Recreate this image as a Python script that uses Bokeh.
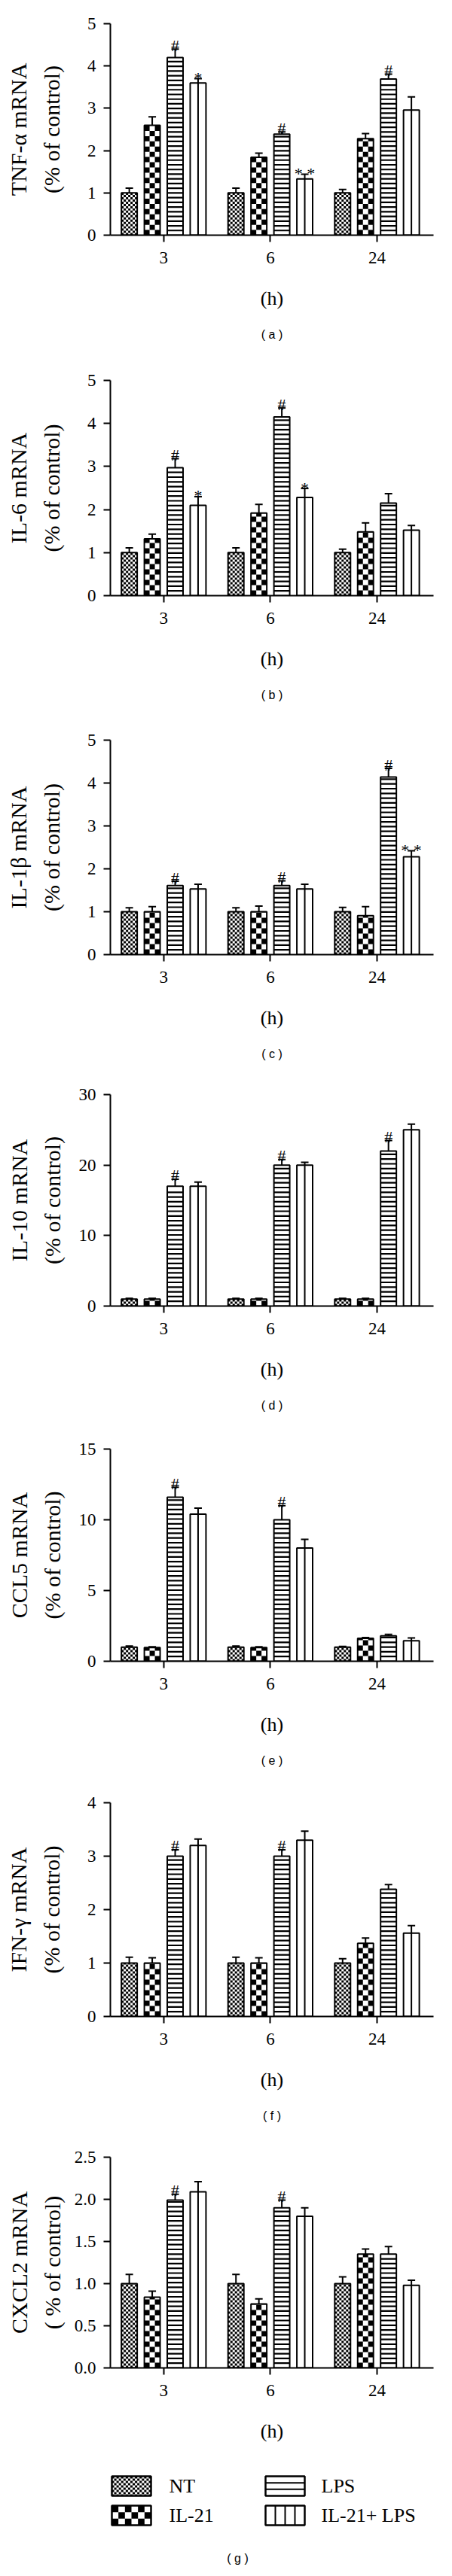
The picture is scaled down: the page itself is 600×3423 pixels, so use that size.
import math
from bokeh.plotting import figure
from bokeh.layouts import column
from bokeh.models import (ColumnDataSource, Whisker, TeeHead, Label, Range1d, Title,
                          FixedTicker, NumeralTickFormatter)
from bokeh.core.properties import value
from bokeh.embed import file_html
from bokeh.resources import INLINE

# ---------------- data ----------------
hours = ["3", "6", "24"]
groups = ["NT", "IL-21", "LPS", "IL-21+ LPS"]

# (a) TNF-alpha
tnf_nt = [1.0, 1.0, 1.0];      tnf_nt_err = [0.11, 0.11, 0.08]
tnf_il21 = [2.60, 1.84, 2.28]; tnf_il21_err = [0.20, 0.10, 0.12]
tnf_lps = [4.20, 2.39, 3.69];  tnf_lps_err = [0.20, 0.05, 0.12]
tnf_comb = [3.60, 1.33, 2.96]; tnf_comb_err = [0.10, 0.11, 0.31]
tnf_lps_mark = ["#", "#", "#"]; tnf_comb_mark = ["*", "* *", ""]

# (b) IL-6
il6_nt = [1.0, 1.0, 1.0];      il6_nt_err = [0.11, 0.11, 0.08]
il6_il21 = [1.32, 1.92, 1.48]; il6_il21_err = [0.11, 0.20, 0.21]
il6_lps = [2.97, 4.15, 2.15];  il6_lps_err = [0.21, 0.21, 0.22]
il6_comb = [2.10, 2.28, 1.52]; il6_comb_err = [0.20, 0.21, 0.11]
il6_lps_mark = ["#", "#", ""]; il6_comb_mark = ["*", "*", ""]

# (c) IL-1beta
il1b_nt = [1.0, 1.0, 1.0];      il1b_nt_err = [0.09, 0.09, 0.10]
il1b_il21 = [1.00, 1.00, 0.91]; il1b_il21_err = [0.12, 0.13, 0.21]
il1b_lps = [1.61, 1.61, 4.14];  il1b_lps_err = [0.10, 0.11, 0.20]
il1b_comb = [1.53, 1.53, 2.28]; il1b_comb_err = [0.11, 0.11, 0.14]
il1b_lps_mark = ["#", "#", "#"]; il1b_comb_mark = ["", "", "* *"]

# (d) IL-10
il10_nt = [1.0, 1.0, 1.0];       il10_nt_err = [0.1, 0.1, 0.1]
il10_il21 = [1.0, 1.0, 1.0];     il10_il21_err = [0.1, 0.1, 0.1]
il10_lps = [17.0, 20.0, 22.0];   il10_lps_err = [1.0, 0.8, 1.5]
il10_comb = [17.0, 20.0, 25.0];  il10_comb_err = [0.6, 0.4, 0.8]
il10_lps_mark = ["#", "#", "#"]; il10_comb_mark = ["", "", ""]

# (e) CCL5
ccl5_nt = [1.0, 1.0, 1.0];       ccl5_nt_err = [0.08, 0.08, 0.05]
ccl5_il21 = [0.97, 0.97, 1.62];  ccl5_il21_err = [0.05, 0.05, 0.06]
ccl5_lps = [11.6, 10.0, 1.80];   ccl5_lps_err = [0.7, 1.0, 0.10]
ccl5_comb = [10.4, 8.0, 1.45];   ccl5_comb_err = [0.43, 0.62, 0.20]
ccl5_lps_mark = ["#", "#", ""];  ccl5_comb_mark = ["", "", ""]

# (f) IFN-gamma
ifn_nt = [1.0, 1.0, 1.0];       ifn_nt_err = [0.11, 0.11, 0.08]
ifn_il21 = [1.00, 1.00, 1.37];  ifn_il21_err = [0.10, 0.10, 0.10]
ifn_lps = [3.00, 3.00, 2.38];   ifn_lps_err = [0.12, 0.12, 0.09]
ifn_comb = [3.20, 3.30, 1.56];  ifn_comb_err = [0.12, 0.17, 0.14]
ifn_lps_mark = ["#", "#", ""];  ifn_comb_mark = ["", "", ""]

# (g) CXCL2
cxcl2_nt = [1.0, 1.0, 1.0];       cxcl2_nt_err = [0.11, 0.11, 0.08]
cxcl2_il21 = [0.84, 0.76, 1.35];  cxcl2_il21_err = [0.07, 0.06, 0.06]
cxcl2_lps = [1.99, 1.90, 1.35];   cxcl2_lps_err = [0.07, 0.09, 0.09]
cxcl2_comb = [2.09, 1.80, 0.98];  cxcl2_comb_err = [0.12, 0.10, 0.06]
cxcl2_lps_mark = ["#", "#", ""];  cxcl2_comb_mark = ["", "", ""]

ticks_0_5 = [0, 1, 2, 3, 4, 5]
ticks_0_30 = [0, 10, 20, 30]
ticks_0_15 = [0, 5, 10, 15]
ticks_0_4 = [0, 1, 2, 3, 4]
ticks_0_25 = [0.0, 0.5, 1.0, 1.5, 2.0, 2.5]

# ---------------- style / layout ----------------
SERIF = "Liberation Serif"
SANS = "Liberation Sans"
W = 584
LEFT = 146
RIGHT = 9
XMIN, XMAX = -0.5, 2.53
PITCH, BW = 0.215, 0.148
OFFS = [-1.5, -0.5, 0.5, 1.5]
TICK_FS = 23
YTITLE_EDGE = 58      # px from frame-left to right edge of the y-title block
CAPTION_X = 323       # screen x of panel caption
CAPTION_FIX = 16      # empirical correction of Title offset


def checker(x_left, y0, w, h, cell_px, ppx, ppy):
    ncol = max(1, int(round(w * ppx / cell_px)))
    cw = w / ncol
    ch = cell_px / ppy
    nrow = int(math.ceil(h / ch - 1e-9))
    X, Y, WW, HH = [], [], [], []
    for r in range(nrow):
        yb = r * ch
        hh = min(ch, h - yb)
        for c in range(ncol):
            if (r + c) % 2 == 0:
                X.append(x_left + (c + 0.5) * cw)
                Y.append(y0 + yb + hh / 2)
                WW.append(cw)
                HH.append(hh)
    return X, Y, WW, HH


def style_axis(ax, standoff):
    ax.axis_line_width = 2
    ax.axis_line_color = "black"
    ax.major_tick_line_width = 2
    ax.major_tick_line_color = "black"
    ax.major_tick_in = 0
    ax.major_tick_out = 9
    ax.minor_tick_line_color = None
    ax.major_label_text_font = SERIF
    ax.major_label_text_font_size = f"{TICK_FS}px"
    ax.major_label_text_color = "black"
    ax.major_label_standoff = standoff
    ax.axis_label_text_font = SERIF
    ax.axis_label_text_font_style = "normal"
    ax.axis_label_text_color = "black"


def label_width(s):
    return sum(0.25 if ch == "." else 0.5 for ch in s) * TICK_FS


def make_panel(P):
    fw = W - LEFT - RIGHT
    fh = P["fh"]
    H = P["top"] + fh + P["bottom"]
    ymax = P["ticks"][-1]
    p = figure(width=W, height=H, x_range=Range1d(XMIN, XMAX), y_range=Range1d(0, ymax),
               output_backend="svg", toolbar_location=None,
               min_border_left=LEFT, min_border_right=RIGHT,
               min_border_top=P["top"], min_border_bottom=P["bottom"])
    p.outline_line_color = None
    p.xgrid.visible = False
    p.ygrid.visible = False
    ppx = fw / (XMAX - XMIN)
    ppy = fh / ymax

    xa = p.xaxis[0]
    ya = p.yaxis[0]
    style_axis(xa, 13)
    style_axis(ya, 10)
    xa.ticker = FixedTicker(ticks=list(range(len(hours))))
    xa.major_label_overrides = {i: h for i, h in enumerate(hours)}
    xa.axis_label = "(h)"
    xa.axis_label_text_font_size = "26px"
    xa.axis_label_standoff = 29
    ya.ticker = FixedTicker(ticks=P["ticks"])
    if P.get("fmt"):
        ya.formatter = NumeralTickFormatter(format=P["fmt"])
        tick_txt = [f"{t:.1f}" for t in P["ticks"]]
    else:
        tick_txt = [str(t) for t in P["ticks"]]
    tw = max(label_width(s) for s in tick_txt)
    ya.axis_label = P["title1"] + "\n" + P["title2"]
    ya.axis_label_text_font_size = "30px"
    ya.axis_label_text_line_height = 1.33
    ya.axis_label_standoff = int(round(max(0, YTITLE_EDGE - 9 - 10 - tw)))

    series = P["series"]
    for k, (vals, errs) in enumerate(series):
        xs = [i + OFFS[k] * PITCH for i in range(len(hours))]
        src = ColumnDataSource(dict(x=xs, top=vals, upper=[v + e for v, e in zip(vals, errs)]))
        p.vbar(x="x", top="top", bottom=0, width=BW, source=src,
               fill_color="white", line_color=None)
        if k in (0, 1):
            cell = 3.0 if k == 0 else 7.0
            CX, CY, CW, CH = [], [], [], []
            for x, v in zip(xs, vals):
                a, b, c, d = checker(x - BW / 2, 0, BW, v, cell, ppx, ppy)
                CX += a; CY += b; CW += c; CH += d
            p.rect(x=CX, y=CY, width=CW, height=CH, fill_color="black", line_color=None)
        elif k == 2:
            sx0, sx1, sy = [], [], []
            step = 6.3 / ppy
            for x, v in zip(xs, vals):
                j = 1
                while j * step < v - 0.3 * step:
                    sx0.append(x - BW / 2); sx1.append(x + BW / 2); sy.append(j * step)
                    j += 1
            p.segment(x0=sx0, y0=sy, x1=sx1, y1=sy, line_color="black", line_width=2.2)
        else:
            p.segment(x0=xs, y0=[0] * len(xs), x1=xs, y1=vals, line_color="black", line_width=2)
        p.vbar(x="x", top="top", bottom=0, width=BW, source=src,
               fill_color=None, line_color="black", line_width=2)
        wh = Whisker(base="x", lower="top", upper="upper", source=src,
                     line_color="black", line_width=2,
                     upper_head=TeeHead(size=10, line_width=2, line_color="black"),
                     lower_head=None)
        p.add_layout(wh)
        marks = P["marks"].get(k)
        if marks:
            mx = [x for x, m in zip(xs, marks) if m]
            my = [v + e for v, e, m in zip(vals, errs, marks) if m]
            mt = [m for m in marks if m]
            if mt:
                yoff = -5 if k == 2 else -1
                p.text(x=mx, y=my, text=mt, text_font=value(SERIF), text_font_size="22px",
                       text_align="center", text_baseline="alphabetic", y_offset=yoff,
                       text_color="black")

    if P.get("caption"):
        frame_cx = 8 + LEFT + fw / 2
        cap = Title(text=P["caption"], align="center", text_font=SANS, text_font_size="16px",
                    text_font_style="normal", text_color="black", standoff=40,
                    offset=CAPTION_X - frame_cx + CAPTION_FIX)
        p.add_layout(cap, "below")
    return p


panels = [
    dict(top=31, fh=284, bottom=157, ticks=ticks_0_5, title1="TNF-α mRNA",
         title2="(% of control)", caption="( a )",
         series=[(tnf_nt, tnf_nt_err), (tnf_il21, tnf_il21_err), (tnf_lps, tnf_lps_err),
                 (tnf_comb, tnf_comb_err)],
         marks={2: tnf_lps_mark, 3: tnf_comb_mark}),
    dict(top=33, fh=286, bottom=161, ticks=ticks_0_5, title1="IL-6 mRNA",
         title2="(% of control)", caption="( b )",
         series=[(il6_nt, il6_nt_err), (il6_il21, il6_il21_err), (il6_lps, il6_lps_err),
                 (il6_comb, il6_comb_err)],
         marks={2: il6_lps_mark, 3: il6_comb_mark}),
    dict(top=31, fh=285, bottom=164, ticks=ticks_0_5, title1="IL-1β mRNA",
         title2="(% of control)", caption="( c )",
         series=[(il1b_nt, il1b_nt_err), (il1b_il21, il1b_il21_err), (il1b_lps, il1b_lps_err),
                 (il1b_comb, il1b_comb_err)],
         marks={2: il1b_lps_mark, 3: il1b_comb_mark}),
    dict(top=22, fh=281, bottom=167, ticks=ticks_0_30, title1="IL-10 mRNA",
         title2="(% of control)", caption="( d )",
         series=[(il10_nt, il10_nt_err), (il10_il21, il10_il21_err), (il10_lps, il10_lps_err),
                 (il10_comb, il10_comb_err)],
         marks={2: il10_lps_mark, 3: il10_comb_mark}),
    dict(top=23, fh=282, bottom=165, ticks=ticks_0_15, title1="CCL5 mRNA",
         title2="(% of control)", caption="( e )",
         series=[(ccl5_nt, ccl5_nt_err), (ccl5_il21, ccl5_il21_err), (ccl5_lps, ccl5_lps_err),
                 (ccl5_comb, ccl5_comb_err)],
         marks={2: ccl5_lps_mark, 3: ccl5_comb_mark}),
    dict(top=23, fh=284, bottom=163, ticks=ticks_0_4, title1="IFN-γ mRNA",
         title2="(% of control)", caption="( f )",
         series=[(ifn_nt, ifn_nt_err), (ifn_il21, ifn_il21_err), (ifn_lps, ifn_lps_err),
                 (ifn_comb, ifn_comb_err)],
         marks={2: ifn_lps_mark, 3: ifn_comb_mark}),
    dict(top=24, fh=280, bottom=126, ticks=ticks_0_25, fmt="0.0", title1="CXCL2 mRNA",
         title2="( % of control)", caption=None,
         series=[(cxcl2_nt, cxcl2_nt_err), (cxcl2_il21, cxcl2_il21_err), (cxcl2_lps, cxcl2_lps_err),
                 (cxcl2_comb, cxcl2_comb_err)],
         marks={2: cxcl2_lps_mark, 3: cxcl2_comb_mark}),
]


def make_legend():
    LH = 136
    p = figure(width=W, height=LH, x_range=Range1d(LEFT, W - RIGHT), y_range=Range1d(LH, 0),
               output_backend="svg", toolbar_location=None, x_axis_type=None, y_axis_type=None,
               min_border_left=LEFT, min_border_right=RIGHT, min_border_top=0, min_border_bottom=0)
    p.outline_line_color = None
    p.xgrid.visible = False
    p.ygrid.visible = False
    box_w, box_h = 52, 26
    col_x = [148, 352]
    row_y = [18, 57]
    label_x = [224, 426]
    pos = [(0, 0), (0, 1), (1, 0), (1, 1)]
    for k, name in enumerate(groups):
        c, r = pos[k]
        bx, by = col_x[c], row_y[r]
        p.rect(x=[bx + box_w / 2], y=[by + box_h / 2], width=[box_w], height=[box_h],
               fill_color="white", line_color=None)
        if k in (0, 1):
            cell = 3.0 if k == 0 else box_w / 6
            X, Y, WW, HH = checker(bx, by, box_w, box_h, cell, 1.0, 1.0)
            p.rect(x=X, y=Y, width=WW, height=HH, fill_color="black", line_color=None)
        elif k == 2:
            ys = [by + box_h * f for f in (1 / 3, 2 / 3)]
            p.segment(x0=[bx] * 2, x1=[bx + box_w] * 2, y0=ys, y1=ys,
                      line_color="black", line_width=2)
        else:
            xs = [bx + box_w * f for f in (0.25, 0.5, 0.75)]
            p.segment(x0=xs, x1=xs, y0=[by] * 3, y1=[by + box_h] * 3,
                      line_color="black", line_width=2)
        p.rect(x=[bx + box_w / 2], y=[by + box_h / 2], width=[box_w], height=[box_h],
               fill_color=None, line_color="black", line_width=2.5)
        p.text(x=[label_x[c]], y=[by + box_h / 2], text=[name], text_font=value(SERIF),
               text_font_size="26px", text_align="left", text_baseline="middle",
               text_color="black")
    p.add_layout(Label(x=CAPTION_X - 8, y=127, x_units="data", y_units="data", text="( g )",
                       text_align="center", text_baseline="middle", text_font=SANS,
                       text_font_size="16px", text_color="black"))
    return p


figs = [make_panel(P) for P in panels]
figs.append(make_legend())
layout = column(*figs, spacing=0)

open("out.html", "w").write(file_html(layout, INLINE))
